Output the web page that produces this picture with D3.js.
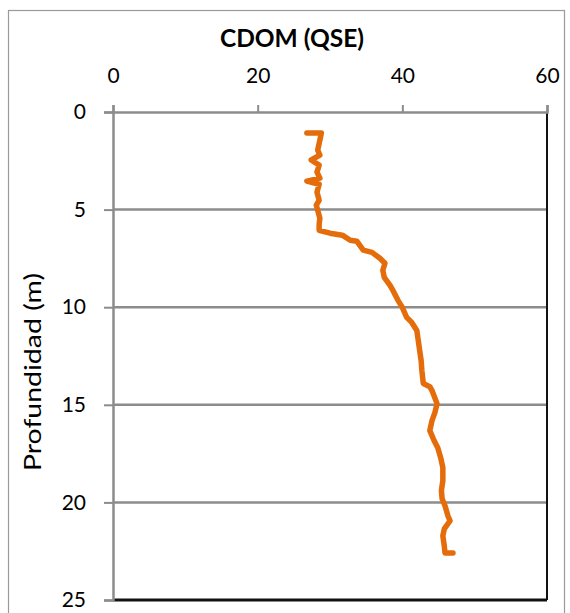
<!DOCTYPE html>
<html><head><meta charset="utf-8">
<script src="https://cdn.jsdelivr.net/npm/d3@7"></script>
<style>body{margin:0;background:#fff;}svg text{font-family:Lato,"Open Sans",sans-serif;fill:#000;}</style>
</head><body><svg id="c" width="570" height="613"></svg>
<script>
const title = "CDOM (QSE)";
const yTitle = "Profundidad (m)";
const xTicks = [0, 20, 40, 60];
const yTicks = [0, 5, 10, 15, 20, 25];
const depth = [1.08,1.08,1.44,1.95,2.21,2.46,2.72,3.08,3.39,3.54,3.70,4.11,4.52,4.77,5.03,5.44,5.75,6.06,6.21,6.31,6.57,6.62,7.08,7.19,7.49,7.75,8.11,8.47,8.88,9.14,9.65,10.01,10.27,10.52,10.78,11.19,11.70,12.22,12.73,13.24,13.91,14.07,14.27,14.94,15.40,15.81,16.32,16.84,17.20,17.71,18.22,18.89,19.40,19.81,20.17,20.69,20.94,21.36,21.71,22.23,22.59,22.59];
const cdom  = [26.8,28.8,28.6,28.3,28.6,27.4,28.5,28.2,28.6,26.8,28.5,28.2,28.5,28.1,28.3,28.6,28.5,28.5,30.0,31.7,32.8,33.7,34.6,35.8,36.9,37.6,37.3,37.5,38.3,38.7,39.4,40.0,40.3,40.6,41.3,42.0,42.2,42.4,42.6,42.7,42.9,43.8,44.1,44.8,44.5,44.1,43.8,44.4,44.9,45.3,45.6,45.6,45.4,45.5,45.9,46.3,46.6,45.8,45.6,45.8,45.9,47.0];

const svg = d3.select("#c");
const x = d3.scaleLinear().domain([0,60]).range([113,547]);
const y = d3.scaleLinear().domain([0,25]).range([112,600]);

// outer border
svg.append("rect").attr("x",8.5).attr("y",10.5).attr("width",556).attr("height",620)
  .attr("fill","none").attr("stroke","#9a9a9a").attr("stroke-width",1.2);

svg.append("text").attr("x",292).attr("y",47).attr("text-anchor","middle")
  .attr("font-size",24.5).attr("font-weight","bold").text(title);

// gridlines
svg.append("g").selectAll("line").data(yTicks.slice(1,-1)).join("line")
  .attr("x1",x(0)).attr("x2",x(60)).attr("y1",d=>y(d)).attr("y2",d=>y(d))
  .attr("stroke","#8c8c8c").attr("stroke-width",2.5);

// right and bottom borders
svg.append("line").attr("x1",x(60)).attr("x2",x(60)).attr("y1",y(0)).attr("y2",y(25))
  .attr("stroke","#111").attr("stroke-width",2);
svg.append("line").attr("x1",x(0)).attr("x2",x(60)).attr("y1",y(25)).attr("y2",y(25))
  .attr("stroke","#111").attr("stroke-width",3);

// x axis top
const xa = svg.append("g").attr("transform",`translate(0,${y(0)})`)
  .call(d3.axisTop(x).tickValues(xTicks).tickSize(7).tickFormat(d3.format("d")));
xa.select(".domain").attr("stroke","#8c8c8c").attr("stroke-width",2.5);
xa.selectAll(".tick line").attr("stroke","#8c8c8c").attr("stroke-width",2);
xa.selectAll(".tick text").attr("font-size",21).attr("y",-29).attr("font-family","Lato,'Open Sans',sans-serif");

// y axis left
const ya = svg.append("g").attr("transform",`translate(${x(0)},0)`)
  .call(d3.axisLeft(y).tickValues(yTicks).tickSize(9).tickFormat(d3.format("d")));
ya.select(".domain").attr("stroke","#8c8c8c").attr("stroke-width",2.5);
ya.selectAll(".tick line").attr("stroke","#8c8c8c").attr("stroke-width",2);
ya.selectAll(".tick text").attr("font-size",21).attr("x",-27).attr("font-family","Lato,'Open Sans',sans-serif");

svg.append("text").attr("transform","translate(41,372) rotate(-90)").attr("text-anchor","middle")
  .attr("font-size",24).attr("textLength",198).attr("lengthAdjust","spacingAndGlyphs").text(yTitle);

const pts = depth.map((d,i)=>[cdom[i], d]);
svg.append("path").datum(pts)
  .attr("d", d3.line().x(d=>x(d[0])).y(d=>y(d[1])))
  .attr("fill","none").attr("stroke","#E46C0A").attr("stroke-width",5.5)
  .attr("stroke-linejoin","round").attr("stroke-linecap","round");
</script></body></html>
